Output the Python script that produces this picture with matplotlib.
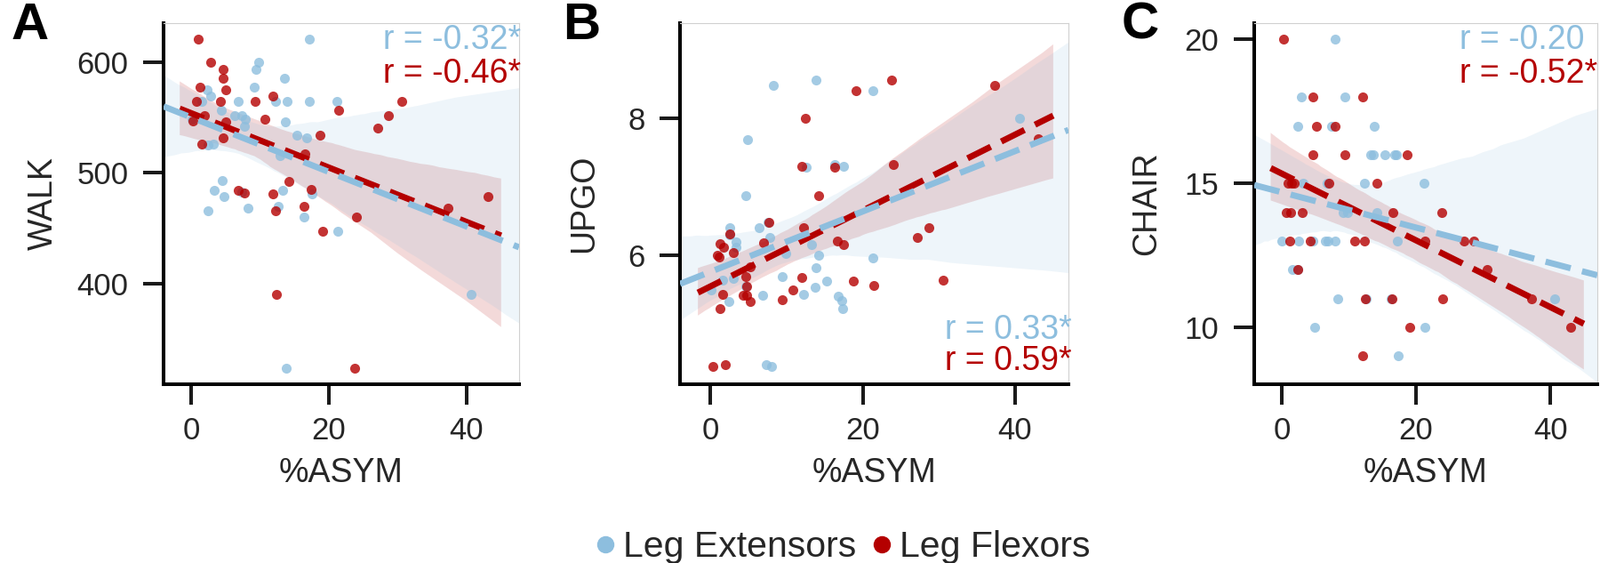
import numpy as np
import matplotlib.pyplot as plt
import seaborn as sns
from matplotlib.lines import Line2D

plt.rcParams['font.family'] = ['Liberation Sans', 'DejaVu Sans']

EXT_COLOR = '#8dbede'
FLEX_COLOR = '#b40000'
TEXT_COLOR = '#262626'

# ---- A: WALK vs %ASYM ----
walk_ext_x = [17.2, 9.8, 9.4, 13.6, 9.1, 2.3, 2.8, 1.5, 6.8, 12.3, 14.0, 17.2, 21.2,
              4.4, 6.3, 7.3, 7.9, 7.7, 13.7, 0.1, 15.3, 16.8, 3.2, 2.4, 12.9, 4.5,
              3.3, 4.8, 7.4, 13.3, 17.5, 12.6, 2.4, 8.3, 16.4, 21.3, 40.6, 13.8]
walk_ext_y = [621, 600, 594, 586, 578, 575, 570, 565, 565, 565, 565, 565, 565,
              557, 552, 552, 549, 542, 546, 549, 534, 532, 526, 525, 516, 493,
              484, 479, 483, 484, 481, 470, 466, 468, 460, 447, 390, 323]
walk_flex_x = [1.1, 2.9, 4.6, 4.7, 1.3, 5.1, 11.9, 0.8, 4.3, 9.3, 30.6, 21.4, 2.0,
               28.6, 10.7, 5.1, 27.1, 18.7, 4.6, 1.6, 16.5, 14.2, 6.8, 7.8, 11.9,
               17.4, 43.1, 16.4, 12.2, 37.3, 24.0, 19.1, 12.4, 23.8, 0.2]
walk_flex_y = [621, 600, 594, 586, 578, 575, 570, 565, 565, 565, 565, 557, 552,
               552, 549, 546, 541, 534, 532, 526, 517, 492, 484, 482, 481,
               485, 479, 470, 466, 468, 460, 447, 390, 323, 547]

# ---- B: UPGO vs %ASYM ----
upgo_ext_x = [13.8, 8.3, 21.3, 40.6, 4.9, 12.6, 16.3, 17.5, 4.6, 6.4, 7.5, 2.5,
              2.5, 7.8, 3.4, 3.3, 13.3, 14.2, 9.9, 21.3, 13.8, 9.4, 15.2, 1.6,
              3.0, 4.6, 0.1, 13.7, 12.2, 6.8, 16.8, 17.2, 17.3, 2.4, 7.3, 8.0]
upgo_ext_y = [8.55, 8.48, 8.40, 8.00, 7.69, 7.28, 7.33, 7.30, 6.87, 6.40, 6.49, 6.40,
              6.30, 6.26, 6.20, 6.12, 6.16, 6.01, 6.03, 5.97, 5.83, 5.69, 5.63, 5.64,
              5.67, 5.55, 5.50, 5.54, 5.43, 5.42, 5.41, 5.35, 5.23, 5.33, 4.42, 4.39]
upgo_flex_x = [23.8, 19.1, 37.3, 12.5, 43.0, 12.0, 16.3, 24.0, 14.2, 7.7, 12.2, 28.7,
               27.2, 16.6, 17.5, 7.0, 1.3, 1.7, 2.5, 3.0, 0.9, 1.1, 5.2, 4.6, 12.0,
               18.7, 30.5, 21.4, 10.8, 4.7, 1.6, 4.3, 4.8, 5.2, 9.4, 1.3, 0.3, 2.0]
upgo_flex_y = [8.55, 8.40, 8.48, 8.00, 7.70, 7.30, 7.28, 7.33, 6.87, 6.49, 6.40, 6.40,
               6.26, 6.21, 6.16, 6.19, 6.17, 6.12, 6.31, 6.04, 6.01, 5.98, 5.84, 5.69, 5.68,
               5.63, 5.64, 5.56, 5.50, 5.55, 5.43, 5.42, 5.42, 5.33, 5.36, 5.23, 4.39, 4.42]

# ---- C: CHAIR vs %ASYM ----
chair_ext_x = [8.0, 2.9, 9.4, 2.4, 7.4, 13.8, 13.3, 13.6, 15.3, 16.8, 17.1, 3.2,
               6.8, 12.3, 21.2, 9.1, 9.8, 14.2, 0.0, 2.5, 4.6, 6.5, 6.9, 7.9, 17.2,
               1.6, 2.4, 8.3, 12.6, 16.3, 40.6, 4.9, 21.3, 17.4]
chair_ext_y = [20, 18, 18, 17, 17, 17, 16, 16, 16, 16, 16, 15,
               15, 15, 15, 14, 14, 14, 13, 13, 13, 13, 13, 13, 13,
               12, 12, 11, 11, 11, 11, 10, 10, 9]
chair_flex_x = [0.3, 4.6, 12.0, 5.1, 7.9, 4.7, 9.4, 18.7, 0.9, 1.5, 1.8, 7.0, 14.2,
                0.7, 1.3, 3.0, 16.6, 23.8, 1.2, 4.3, 10.8, 12.3, 21.3, 27.2, 28.6,
                30.6, 2.4, 12.5, 16.4, 24.0, 37.2, 19.1, 43.0, 12.0]
chair_flex_y = [20, 18, 18, 17, 17, 16, 16, 16, 15, 15, 15, 15, 15,
                14, 14, 14, 14, 14, 13, 13, 13, 13, 13, 13, 13,
                12, 12, 11, 11, 11, 11, 10, 10, 9]

panels = [
    dict(letter='A', ylabel='WALK', ext=(walk_ext_x, walk_ext_y), flex=(walk_flex_x, walk_flex_y),
         r_ext='r = -0.32*', r_flex='r = -0.46*', yticks=[400, 500, 600],
         xlim=(-4, 47.6), ylim=(308.6, 635.7), pos=[0.1022, 0.3175, 0.2222, 0.6414],
         rx=0.617, ry=(0.997, 0.905), letter_x=0.007, ylabelpad=14),
    dict(letter='B', ylabel='UPGO', ext=(upgo_ext_x, upgo_ext_y), flex=(upgo_flex_x, upgo_flex_y),
         r_ext='r = 0.33*', r_flex='r = 0.59*', yticks=[6, 8],
         xlim=(-4, 47.0), ylim=(4.13, 9.38), pos=[0.4250, 0.3175, 0.2428, 0.6414],
         rx=0.682, ry=(0.195, 0.108), letter_x=0.352, ylabelpad=22),
    dict(letter='C', ylabel='CHAIR', ext=(chair_ext_x, chair_ext_y), flex=(chair_flex_x, chair_flex_y),
         r_ext='r = -0.20', r_flex='r = -0.52*', yticks=[10, 15, 20],
         xlim=(-4.1, 47.0), ylim=(8.02, 20.57), pos=[0.7839, 0.3175, 0.2144, 0.6414],
         rx=0.598, ry=(0.997, 0.903), letter_x=0.701, ylabelpad=18),
]

flex_fit_range = (-1.65, 45.0)
line_style = {'linewidth': 5.0, 'dashes': (4.2, 1.9)}

fig = plt.figure(figsize=(18, 6.33), dpi=100)

for p in panels:
    ax = fig.add_axes(p['pos'])
    xe, ye = np.array(p['ext'][0]), np.array(p['ext'][1])
    xf, yf = np.array(p['flex'][0]), np.array(p['flex'][1])

    # fits with bootstrap bands (flexors over a shorter x range)
    ax.set_xlim(*flex_fit_range)
    sns.regplot(x=xf, y=yf, ax=ax, scatter=False, truncate=False, color=FLEX_COLOR, seed=1,
                line_kws=dict(line_style, zorder=3))
    ax.set_xlim(*p['xlim'])
    sns.regplot(x=xe, y=ye, ax=ax, scatter=False, truncate=False, color=EXT_COLOR, seed=1,
                line_kws=dict(line_style, zorder=4))

    ax.scatter(xe, ye, s=64, color=EXT_COLOR, alpha=0.8, lw=0, zorder=2)
    ax.scatter(xf, yf, s=64, color=FLEX_COLOR, alpha=0.8, lw=0, zorder=2)

    ax.set_xlim(*p['xlim'])
    ax.set_ylim(*p['ylim'])
    ax.set_xticks([0, 20, 40])
    ax.set_yticks(p['yticks'])
    ax.set_xlabel('%ASYM', fontsize=27, color=TEXT_COLOR, labelpad=9)
    ax.set_ylabel(p['ylabel'], fontsize=27, color=TEXT_COLOR, labelpad=p['ylabelpad'])

    for side in ['left', 'bottom']:
        ax.spines[side].set_linewidth(2.9)
        ax.spines[side].set_color('black')
    for side in ['top', 'right']:
        ax.spines[side].set_linewidth(0.8)
        ax.spines[side].set_color('#d0d0d0')
    ax.tick_params(length=16.5, width=2.9, color='#1a1a1a', labelsize=25, labelcolor=TEXT_COLOR)
    ax.tick_params(axis='y', pad=12)
    ax.tick_params(axis='x', pad=9.5)

    ax.text(p['rx'], p['ry'][0], p['r_ext'], transform=ax.transAxes, ha='left', va='top',
            fontsize=27, color=EXT_COLOR)
    ax.text(p['rx'], p['ry'][1], p['r_flex'], transform=ax.transAxes, ha='left', va='top',
            fontsize=27, color=FLEX_COLOR)

    fig.text(p['letter_x'], 0.997, p['letter'], fontsize=42, fontweight='bold', va='top', ha='left')

handles = [Line2D([], [], ls='', marker='o', ms=14, mew=0, color=EXT_COLOR, label='Leg Extensors'),
           Line2D([], [], ls='', marker='o', ms=14, mew=0, color=FLEX_COLOR, label='Leg Flexors')]
leg = fig.legend(handles=handles, loc='center', bbox_to_anchor=(0.527, 0.028), ncol=2, frameon=False,
                 fontsize=29.5, handlelength=0.5, handletextpad=0.24, columnspacing=0.43)
for t in leg.get_texts():
    t.set_color(TEXT_COLOR)

fig.savefig('out.png', dpi=100)
